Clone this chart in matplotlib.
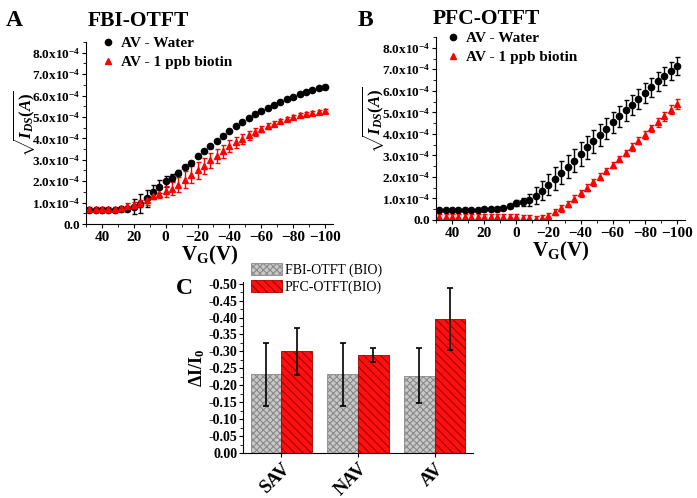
#!/usr/bin/env python3
import numpy as np
import matplotlib
matplotlib.use('Agg')
import matplotlib.pyplot as plt
from matplotlib.ticker import MultipleLocator, FuncFormatter
from matplotlib.lines import Line2D

plt.rcParams['font.family'] = 'Liberation Serif'
plt.rcParams['font.weight'] = 'bold'
plt.rcParams['mathtext.fontset'] = 'custom'
plt.rcParams['mathtext.rm'] = 'Liberation Serif'
plt.rcParams['mathtext.it'] = 'Liberation Serif:italic'
plt.rcParams['mathtext.bf'] = 'Liberation Serif:bold'
plt.rcParams['hatch.linewidth'] = 0.8

# gate voltage, 48 V down to -100 V in 4 V steps
vg = [48, 44, 40, 36, 32, 28, 24, 20, 16, 12, 8, 4, 0, -4, -8, -12, -16, -20, -24,
      -28, -32, -36, -40, -44, -48, -52, -56, -60, -64, -68, -72, -76, -80, -84,
      -88, -92, -96, -100]

# panel A, FBI-OTFT (units of 1e-4)
fbi_water = [0.66, 0.66, 0.66, 0.66, 0.66, 0.68, 0.72, 0.8, 0.95, 1.2, 1.5, 1.75, 2.0,
             2.17, 2.4, 2.64, 2.87, 3.16, 3.39, 3.62, 3.86, 4.12, 4.33, 4.56, 4.75,
             4.95, 5.12, 5.27, 5.42, 5.58, 5.7, 5.83, 5.94, 6.05, 6.16, 6.25, 6.34, 6.41]
fbi_water_err = [0.05, 0.05, 0.05, 0.05, 0.05, 0.05, 0.1, 0.35, 0.45, 0.4, 0.3, 0.3,
                 0.25, 0.15, 0.1, 0.06, 0.05, 0.05, 0.05, 0.05, 0.05, 0.05, 0.05, 0.05,
                 0.05, 0.05, 0.05, 0.05, 0.05, 0.05, 0.05, 0.05, 0.05, 0.05, 0.05, 0.05,
                 0.05, 0.05]
fbi_biotin = [0.69, 0.69, 0.69, 0.69, 0.69, 0.75, 0.82, 0.88, 0.96, 1.1, 1.3, 1.42, 1.52,
              1.64, 1.83, 2.06, 2.3, 2.5, 2.72, 2.97, 3.19, 3.39, 3.62, 3.81, 3.97,
              4.14, 4.3, 4.44, 4.56, 4.69, 4.8, 4.9, 5.0, 5.08, 5.14, 5.19, 5.23, 5.27]
fbi_biotin_err = [0.1, 0.1, 0.1, 0.1, 0.1, 0.1, 0.15, 0.15, 0.15, 0.2, 0.15, 0.2, 0.25,
                  0.3, 0.35, 0.4, 0.4, 0.4, 0.38, 0.35, 0.33, 0.3, 0.28, 0.25, 0.22,
                  0.2, 0.18, 0.16, 0.14, 0.12, 0.1, 0.1, 0.1, 0.09, 0.09, 0.08, 0.08, 0.08]

# panel B, PFC-OTFT (units of 1e-4)
pfc_water = [0.45, 0.46, 0.46, 0.46, 0.46, 0.47, 0.48, 0.49, 0.5, 0.52, 0.55, 0.65, 0.8,
             0.84, 0.93, 1.12, 1.36, 1.64, 1.92, 2.2, 2.48, 2.76, 3.07, 3.37, 3.65,
             3.94, 4.24, 4.53, 4.81, 5.09, 5.36, 5.62, 5.9, 6.16, 6.44, 6.68, 6.91, 7.15]
pfc_water_err = [0.03, 0.03, 0.03, 0.03, 0.03, 0.03, 0.03, 0.03, 0.03, 0.04, 0.05, 0.1,
                 0.15, 0.2, 0.3, 0.4, 0.45, 0.5, 0.54, 0.54, 0.54, 0.54, 0.54, 0.52,
                 0.52, 0.5, 0.5, 0.5, 0.48, 0.48, 0.46, 0.46, 0.45, 0.44, 0.43, 0.43,
                 0.42, 0.4]
pfc_biotin = [0.14, 0.14, 0.14, 0.14, 0.13, 0.13, 0.13, 0.12, 0.12, 0.12, 0.12, 0.12, 0.12,
              0.1, 0.08, 0.04, 0.08, 0.19, 0.37, 0.54, 0.75, 0.99, 1.24, 1.5, 1.75,
              2.02, 2.28, 2.56, 2.84, 3.1, 3.39, 3.68, 3.96, 4.25, 4.53, 4.81, 5.12, 5.38]
pfc_biotin_err = [0.15] * 30 + [0.17, 0.17, 0.18, 0.18, 0.2, 0.2, 0.2, 0.22]

# panel C
targets = ['SAV', 'NAV', 'AV']
fbi_bio = [-0.232, -0.232, -0.228]
fbi_bio_err = [0.092, 0.092, 0.081]
pfc_bio = [-0.300, -0.290, -0.395]
pfc_bio_err = [0.070, 0.021, 0.092]

W, H = 697, 498
fig = plt.figure(figsize=(W / 100, H / 100), dpi=100)


def box(l, t, r, b):
    return [l / W, 1 - b / H, (r - l) / W, (b - t) / H]


def sci(v, pos):
    if abs(v) < 1e-12:
        return '0.0'
    return r'$\mathbf{%.1fx10^{-4}}$' % (v * 1e4)


def iv_panel(rect, water, water_err, bio, bio_err, leg_anchor):
    ax = fig.add_axes(rect)
    v = np.array(vg)
    ax.errorbar(v, np.array(water) * 1e-4, yerr=np.array(water_err) * 1e-4, fmt='o',
                color='black', ms=4.5, capsize=1.8, elinewidth=1.0, capthick=1.0)
    ax.errorbar(v, np.array(bio) * 1e-4, yerr=np.array(bio_err) * 1e-4, fmt='^',
                color='red', ms=4.7, capsize=1.8, elinewidth=1.0, capthick=1.0)
    ax.set_xlim(50, -105)
    ax.set_ylim(0, 8.5e-4)
    ax.xaxis.set_major_locator(MultipleLocator(20))
    ax.xaxis.set_minor_locator(MultipleLocator(10))
    ax.yaxis.set_major_locator(MultipleLocator(1e-4))
    ax.yaxis.set_minor_locator(MultipleLocator(0.5e-4))
    ax.yaxis.set_major_formatter(FuncFormatter(sci))
    for s in ['top', 'right']:
        ax.spines[s].set_visible(False)
    ax.tick_params(axis='y', labelsize=9.5, pad=1, length=3)
    ax.tick_params(axis='x', labelsize=11, pad=2, length=3)
    ax.tick_params(which='minor', length=2)
    ax.set_xlabel(r'$\mathbf{V_G(V)}$', fontsize=15, labelpad=0)
    ax.set_ylabel(r'$\sqrt{I_{DS}(A)}$', fontsize=12, fontweight='normal')
    ax.yaxis.set_label_coords(-0.2, 0.55)
    handles = [Line2D([], [], marker='o', color='black', ls='none', ms=4.5),
               Line2D([], [], marker='^', color='red', ls='none', ms=4.7)]
    ax.legend(handles, ['AV - Water', 'AV - 1 ppb biotin'], loc='upper left',
              bbox_to_anchor=leg_anchor, frameon=False, fontsize=11,
              handletextpad=0.4, handlelength=1.0, labelspacing=0.35, borderpad=0.1,
              borderaxespad=0.0)
    return ax


iv_panel(box(86, 42, 333, 224), fbi_water, fbi_water_err, fbi_biotin, fbi_biotin_err,
         (0.05, 1.04))
iv_panel(box(436, 37, 685, 220), pfc_water, pfc_water_err, pfc_biotin, pfc_biotin_err,
         (0.03, 1.04))

fig.text(6 / W, 1 - 20 / H, 'A', fontsize=17, fontweight='bold', va='center')
fig.text(358 / W, 1 - 20 / H, 'B', fontsize=17, fontweight='bold', va='center')
fig.text(138 / W, 1 - 21 / H, 'FBI-OTFT', fontsize=15.5, fontweight='bold',
         ha='center', va='center')
fig.text(486 / W, 1 - 19 / H, 'PFC-OTFT', fontsize=15.5, fontweight='bold',
         ha='center', va='center')
fig.text(184 / W, 1 - 288 / H, 'C', fontsize=17, fontweight='bold', ha='center',
         va='center')

# panel C bars
axc = fig.add_axes(box(243, 282, 473, 453))
x = np.arange(1, len(targets) + 1)
bw = 0.4
axc.bar(x - bw / 2, fbi_bio, bw, color='#c8c8c8', edgecolor='#8a8a8a', hatch='xxxxx',
        linewidth=0.6, label='FBI-OTFT (BIO)')
axc.bar(x + bw / 2, pfc_bio, bw, color='#ff1010', edgecolor='#a00000', hatch='\\\\\\\\',
        linewidth=0.6, label='PFC-OTFT(BIO)')
axc.errorbar(x - bw / 2, fbi_bio, yerr=fbi_bio_err, fmt='none', ecolor='black',
             elinewidth=1.2, capsize=2, capthick=1.2)
axc.errorbar(x + bw / 2, pfc_bio, yerr=pfc_bio_err, fmt='none', ecolor='black',
             elinewidth=1.2, capsize=2, capthick=1.2)
axc.set_xlim(0.5, 3.5)
axc.set_ylim(0, -0.505)
axc.yaxis.set_major_locator(MultipleLocator(0.05))
axc.yaxis.set_minor_locator(MultipleLocator(0.025))
axc.yaxis.set_major_formatter(FuncFormatter(lambda v, p: '0.00' if abs(v) < 1e-9 else '%.2f' % v))
axc.set_xticks(x)
axc.set_xticklabels(targets, rotation=45, ha='right', rotation_mode='anchor',
                    fontsize=13.5, fontweight='bold')
for s in ['top', 'right']:
    axc.spines[s].set_visible(False)
axc.tick_params(axis='y', labelsize=10, pad=1, length=3)
axc.tick_params(axis='y', which='minor', length=2)
axc.tick_params(axis='x', length=3, pad=2)
axc.set_ylabel(r'$\mathbf{\Delta I/I_0}$', fontsize=13)
axc.yaxis.set_label_coords(-0.155, 0.5)
axc.legend(loc='upper left', bbox_to_anchor=(0.0, 1.16), frameon=False,
           prop={'family': 'Liberation Serif', 'weight': 'normal', 'size': 10},
           handlelength=2.2, handleheight=1.0, handletextpad=0.2,
           labelspacing=0.2, borderpad=0.1)

fig.savefig('out.png', dpi=100)
